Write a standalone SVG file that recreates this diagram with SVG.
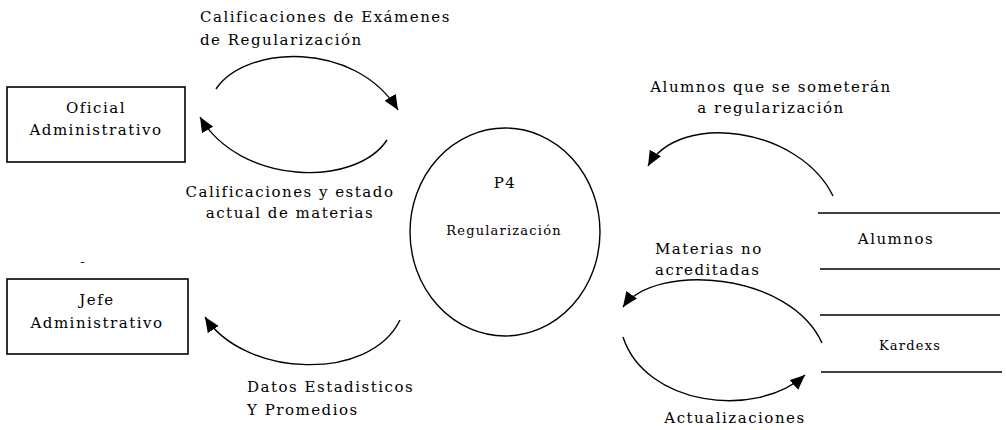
<svg xmlns="http://www.w3.org/2000/svg" width="1006" height="430" viewBox="0 0 1006 430">
<style>
text{font-family:"DejaVu Serif","Liberation Serif",serif;font-size:15px;letter-spacing:1.5px;fill:#000}
.sm{font-size:13px;letter-spacing:1.2px}
.box{fill:#fff;stroke:#000;stroke-width:1.6}
.flow{fill:none;stroke:#000;stroke-width:1.4;marker-end:url(#ah)}
.store{stroke:#000;stroke-width:1.6}
</style>
<defs>
<marker id="ah" markerUnits="userSpaceOnUse" markerWidth="16" markerHeight="13" refX="15" refY="6.5" orient="auto">
<path d="M0,0 L15,6.5 L0,13 z" fill="#000"/>
</marker>
</defs>
<rect width="1006" height="430" fill="#fff"/>
<g id="oficial">
<rect class="box" x="7" y="87" width="178" height="75"/>
<text x="96" y="113" text-anchor="middle">Oficial</text>
<text x="96" y="135" text-anchor="middle">Administrativo</text>
</g>
<g id="jefe">
<text x="83" y="266" text-anchor="middle" class="sm">-</text>
<rect class="box" x="7" y="279" width="181" height="75"/>
<text x="97" y="305" text-anchor="middle">Jefe</text>
<text x="97" y="328" text-anchor="middle">Administrativo</text>
</g>
<g id="p4">
<ellipse cx="505" cy="232" rx="95" ry="104" fill="none" stroke="#000" stroke-width="1.4"/>
<text x="505" y="188" text-anchor="middle">P4</text>
<text x="504" y="235" text-anchor="middle" class="sm">Regularización</text>
</g>
<g id="alumnos">
<line class="store" x1="818" y1="213" x2="1000" y2="213"/>
<line class="store" x1="820" y1="269" x2="1000" y2="269"/>
<text x="896" y="244" text-anchor="middle">Alumnos</text>
</g>
<g id="kardexs">
<line class="store" x1="820" y1="315" x2="1000" y2="315"/>
<line class="store" x1="821" y1="372" x2="1002" y2="372"/>
<text x="910" y="350" text-anchor="middle" class="sm">Kardexs</text>
</g>
<g id="connectors">
<path class="flow" d="M216,89 C245,45 355,40 398,110"/>
<path class="flow" d="M387,140 C355,188 240,185 200,117"/>
<path class="flow" d="M400,320 C370,382 245,378 205,317"/>
<path class="flow" d="M833,196 C800,128 680,110 648,166"/>
<path class="flow" d="M822,343 C790,272 655,262 623,307"/>
<path class="flow" d="M623,337 C645,405 755,420 805,375"/>
</g>
<g id="labels">
<text x="200" y="22">Calificaciones de Exámenes</text>
<text x="200" y="45">de Regularización</text>
<text x="290" y="197" text-anchor="middle">Calificaciones y estado</text>
<text x="290" y="218" text-anchor="middle">actual de materias</text>
<text x="247" y="392">Datos Estadisticos</text>
<text x="247" y="415">Y Promedios</text>
<text x="771" y="92" text-anchor="middle">Alumnos que se someterán</text>
<text x="771" y="113" text-anchor="middle">a regularización</text>
<text x="655" y="254">Materias no</text>
<text x="655" y="275">acreditadas</text>
<text x="735" y="423" text-anchor="middle">Actualizaciones</text>
</g>
</svg>
